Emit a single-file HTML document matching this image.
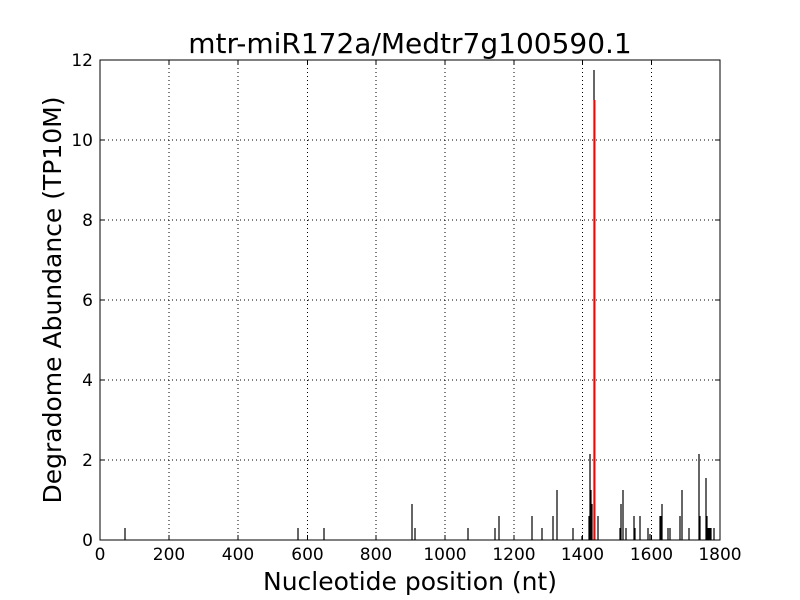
<!DOCTYPE html>
<html><head><style>body{margin:0;background:#fff}svg{display:block}</style></head>
<body>
<svg width="800" height="600" xmlns="http://www.w3.org/2000/svg" font-family="'DejaVu Sans','Liberation Sans',sans-serif">
<rect width="800" height="600" fill="#fff"/>
<g stroke="#000" stroke-width="1" stroke-dasharray="1,3">
<line x1="169" y1="60" x2="169" y2="540"/><line x1="238" y1="60" x2="238" y2="540"/><line x1="307.5" y1="60" x2="307.5" y2="540"/><line x1="376" y1="60" x2="376" y2="540"/><line x1="445" y1="60" x2="445" y2="540"/><line x1="514" y1="60" x2="514" y2="540"/><line x1="582.5" y1="60" x2="582.5" y2="540"/><line x1="651.5" y1="60" x2="651.5" y2="540"/>
<line x1="100" y1="460" x2="720" y2="460"/><line x1="100" y1="380" x2="720" y2="380"/><line x1="100" y1="300" x2="720" y2="300"/><line x1="100" y1="220" x2="720" y2="220"/><line x1="100" y1="140" x2="720" y2="140"/>
</g>
<g stroke="#000" stroke-width="1.2">
<line x1="125" y1="540" x2="125" y2="528"/><line x1="298" y1="540" x2="298" y2="528"/><line x1="324" y1="540" x2="324" y2="528"/>
<line x1="412" y1="540" x2="412" y2="504"/><line x1="415" y1="540" x2="415" y2="528"/><line x1="468" y1="540" x2="468" y2="528"/>
<line x1="495" y1="540" x2="495" y2="528"/><line x1="499" y1="540" x2="499" y2="516"/><line x1="532" y1="540" x2="532" y2="516"/>
<line x1="542" y1="540" x2="542" y2="528"/><line x1="553" y1="540" x2="553" y2="516"/><line x1="557" y1="540" x2="557" y2="490"/>
<line x1="573" y1="540" x2="573" y2="528"/><line x1="582" y1="540" x2="582" y2="536"/><line x1="589" y1="540" x2="589" y2="516"/>
<line x1="590" y1="540" x2="590" y2="454"/><line x1="591" y1="540" x2="591" y2="490"/><line x1="592" y1="540" x2="592" y2="504"/>
<line x1="594" y1="540" x2="594" y2="70"/><line x1="598" y1="540" x2="598" y2="516"/>
<line x1="620" y1="540" x2="620" y2="528"/><line x1="621" y1="540" x2="621" y2="504"/><line x1="623" y1="540" x2="623" y2="490"/>
<line x1="626" y1="540" x2="626" y2="528"/><line x1="634" y1="540" x2="634" y2="516"/><line x1="635" y1="540" x2="635" y2="528"/>
<line x1="640" y1="540" x2="640" y2="516"/><line x1="648" y1="540" x2="648" y2="528"/><line x1="650" y1="540" x2="650" y2="534"/>
<line x1="660" y1="540" x2="660" y2="516"/><line x1="661" y1="540" x2="661" y2="516"/><line x1="662" y1="540" x2="662" y2="504"/>
<line x1="668" y1="540" x2="668" y2="528"/><line x1="670" y1="540" x2="670" y2="528"/><line x1="680" y1="540" x2="680" y2="516"/>
<line x1="682" y1="540" x2="682" y2="490"/><line x1="689" y1="540" x2="689" y2="528"/><line x1="699" y1="540" x2="699" y2="454"/>
<line x1="700" y1="540" x2="700" y2="516"/><line x1="706" y1="540" x2="706" y2="478"/><line x1="707" y1="540" x2="707" y2="516"/>
<line x1="708" y1="540" x2="708" y2="528"/><line x1="709" y1="540" x2="709" y2="528"/><line x1="710" y1="540" x2="710" y2="528"/><line x1="711" y1="540" x2="711" y2="528"/>
<line x1="714" y1="540" x2="714" y2="528"/>
</g>
<rect x="593.5" y="100" width="2" height="440" fill="#f00"/>
<rect x="100" y="60" width="620" height="480" fill="none" stroke="#000" stroke-width="1"/>
<g stroke="#000">
<line x1="169" y1="540" x2="169" y2="535"/><line x1="238" y1="540" x2="238" y2="535"/><line x1="307.5" y1="540" x2="307.5" y2="535"/><line x1="376" y1="540" x2="376" y2="535"/><line x1="445" y1="540" x2="445" y2="535"/><line x1="514" y1="540" x2="514" y2="535"/><line x1="582.5" y1="540" x2="582.5" y2="535"/><line x1="651.5" y1="540" x2="651.5" y2="535"/>
<line x1="169" y1="60" x2="169" y2="65"/><line x1="238" y1="60" x2="238" y2="65"/><line x1="307.5" y1="60" x2="307.5" y2="65"/><line x1="376" y1="60" x2="376" y2="65"/><line x1="445" y1="60" x2="445" y2="65"/><line x1="514" y1="60" x2="514" y2="65"/><line x1="582.5" y1="60" x2="582.5" y2="65"/><line x1="651.5" y1="60" x2="651.5" y2="65"/>
<line x1="100" y1="460" x2="105" y2="460"/><line x1="100" y1="380" x2="105" y2="380"/><line x1="100" y1="300" x2="105" y2="300"/><line x1="100" y1="220" x2="105" y2="220"/><line x1="100" y1="140" x2="105" y2="140"/>
<line x1="715" y1="460" x2="720" y2="460"/><line x1="715" y1="380" x2="720" y2="380"/><line x1="715" y1="300" x2="720" y2="300"/><line x1="715" y1="220" x2="720" y2="220"/><line x1="715" y1="140" x2="720" y2="140"/>
</g>
<g font-size="17" text-anchor="middle">
<text x="100" y="560">0</text><text x="169" y="560">200</text><text x="238" y="560">400</text><text x="307.5" y="560">600</text><text x="376" y="560">800</text><text x="445" y="560">1000</text><text x="514" y="560">1200</text><text x="582.5" y="560">1400</text><text x="651.5" y="560">1600</text><text x="720" y="560">1800</text>
</g>
<g font-size="17" text-anchor="end">
<text x="93" y="546">0</text><text x="93" y="466">2</text><text x="93" y="386">4</text><text x="93" y="306">6</text><text x="93" y="226">8</text><text x="93" y="146">10</text><text x="93" y="66">12</text>
</g>
<text x="410" y="53" font-size="28" text-anchor="middle">mtr-miR172a/Medtr7g100590.1</text>
<text x="410" y="590" font-size="25" text-anchor="middle">Nucleotide position (nt)</text>
<text transform="translate(61,300) rotate(-90)" font-size="25" text-anchor="middle">Degradome Abundance (TP10M)</text>
</svg>
</body></html>
